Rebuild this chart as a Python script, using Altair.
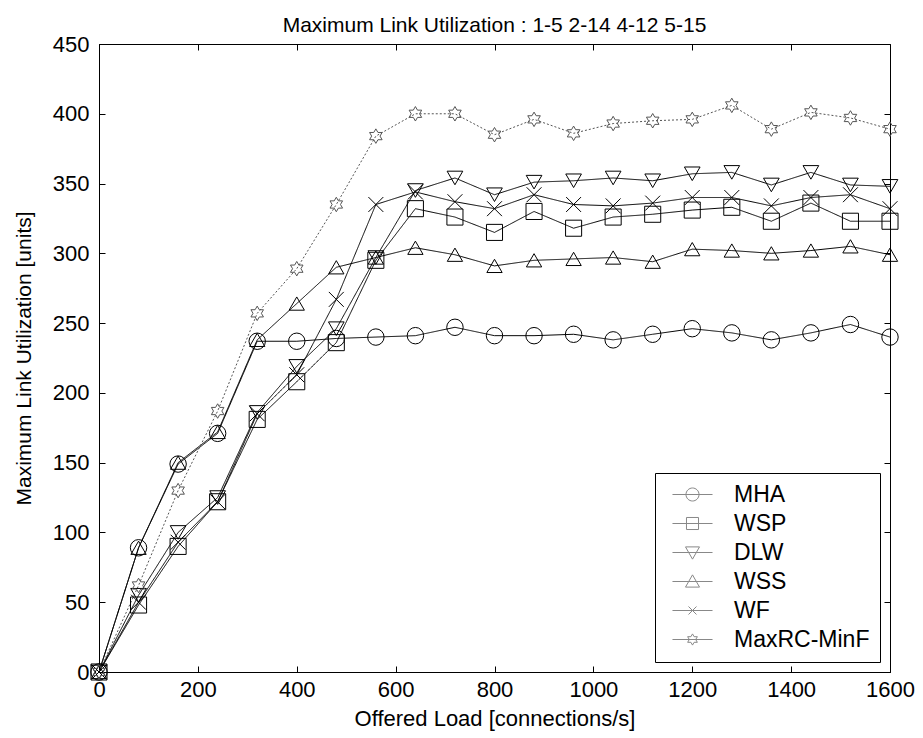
import altair as alt
import pandas as pd

loads = [0, 80, 160, 240, 320, 400, 480, 560, 640, 720, 800, 880, 960, 1040, 1120, 1200, 1280, 1360, 1440, 1520, 1600]
mha = [0, 89, 149, 171, 237, 237, 239, 240, 241, 247, 241, 241, 242, 238, 242, 246, 243, 238, 243, 249, 240]
wsp = [0, 48, 90, 122, 181, 208, 236, 295, 332, 326, 315, 330, 318, 326, 328, 331, 333, 323, 336, 323, 323]
dlw = [0, 55, 100, 125, 186, 219, 246, 297, 345, 354, 342, 351, 352, 354, 352, 357, 358, 349, 358, 349, 348]
wss = [0, 89, 150, 172, 238, 264, 290, 297, 304, 299, 291, 295, 296, 297, 294, 303, 302, 300, 302, 305, 299]
wf = [0, 50, 93, 122, 185, 213, 267, 335, 344, 337, 332, 342, 335, 334, 336, 340, 340, 334, 340, 342, 332]
maxrc = [0, 62, 130, 187, 257, 289, 335, 384, 400, 400, 385, 396, 386, 393, 395, 396, 406, 389, 401, 397, 389]

series_names = ["MHA", "WSP", "DLW", "WSS", "WF", "MaxRC-MinF"]
series_values = [mha, wsp, dlw, wss, wf, maxrc]
x_ticks = [0, 200, 400, 600, 800, 1000, 1200, 1400, 1600]
y_ticks = [0, 50, 100, 150, 200, 250, 300, 350, 400, 450]

rows = []
for name, vals in zip(series_names, series_values):
    for x, y in zip(loads, vals):
        rows.append({"load": x, "util": y, "series": name})
df = pd.DataFrame(rows)

W, H = 791, 628
FONT = "Liberation Sans"

xs = alt.Scale(domain=[0, 1600], nice=False, zero=False)
ys = alt.Scale(domain=[0, 450], nice=False, zero=False)

# marker shapes used on the plot
x_cross = "M-1,-1L1,1M1,-1L-1,1"
hexagram = ("M0,-1L-0.289,-0.5L-0.866,-0.5L-0.577,0L-0.866,0.5L-0.289,0.5"
            "L0,1L0.289,0.5L0.866,0.5L0.577,0L0.866,-0.5L0.289,-0.5Z")
shape_scale = alt.Scale(domain=series_names,
                        range=["circle", "square", "triangle-down", "triangle-up", x_cross, hexagram])

# legend symbols: a short line with the marker on it
seg = "M-2.86,0L2.86,0"
leg_shapes = [
    seg + "M0.93,0A0.93,0.93 0 1,1 -0.93,0A0.93,0.93 0 1,1 0.93,0Z",
    seg + "M-0.86,-0.86L0.86,-0.86L0.86,0.86L-0.86,0.86Z",
    seg + "M-1,-0.8L1,-0.8L0,0.95Z",
    seg + "M-1,0.8L1,0.8L0,-0.95Z",
    seg + "M-0.57,-0.57L0.57,0.57M0.57,-0.57L-0.57,0.57",
    seg + ("M0,-0.8L-0.231,-0.4L-0.693,-0.4L-0.462,0L-0.693,0.4L-0.231,0.4"
           "L0,0.8L0.231,0.4L0.693,0.4L0.462,0L0.693,-0.4L0.231,-0.4Z"),
]
leg_shape_scale = alt.Scale(domain=series_names, range=leg_shapes)

color_scale = alt.Scale(domain=series_names,
                        range=["black", "black", "black", "black", "black", "#555555"])
dash_scale = alt.Scale(domain=series_names,
                       range=[[1, 0], [1, 0], [1, 0], [1, 0], [1, 0], [2, 2]])
size_scale = alt.Scale(domain=series_names, range=[270, 210, 240, 240, 50, 110])

leg = alt.Legend(title=None, symbolOpacity=1)

base = alt.Chart(df)

lines = base.mark_line(strokeWidth=1).encode(
    x=alt.X("load:Q", scale=xs, axis=alt.Axis(
        title="Offered Load [connections/s]", values=x_ticks, tickSize=0, format="d",
        labelPadding=7, titlePadding=8, grid=False, titleFontSize=22, labelFlush=False)),
    y=alt.Y("util:Q", scale=ys, axis=alt.Axis(
        title="Maximum Link Utilization [units]", values=y_ticks, tickSize=0, format="d",
        labelPadding=10, titlePadding=18, grid=False, titleFontSize=21, labelFlush=False)),
    color=alt.Color("series:N", scale=color_scale, legend=None),
    strokeDash=alt.StrokeDash("series:N", scale=dash_scale, legend=None),
    detail="series:N",
)

points = base.mark_point(filled=False, strokeWidth=1, opacity=1).encode(
    x=alt.X("load:Q", scale=xs, axis=alt.Axis(
        orient="top", offset=-H, labels=False, domain=False, title=None,
        values=x_ticks, tickSize=6, grid=False)),
    y=alt.Y("util:Q", scale=ys, axis=alt.Axis(
        orient="right", offset=-W, labels=False, domain=False, title=None,
        values=y_ticks, tickSize=6, grid=False)),
    shape=alt.Shape("series:N", scale=shape_scale, legend=None),
    color=alt.Color("series:N", scale=color_scale, legend=None),
    size=alt.Size("series:N", scale=size_scale, legend=None),
)

ticks2 = base.mark_point(opacity=0).encode(
    x=alt.X("load:Q", scale=xs, axis=alt.Axis(
        orient="bottom", offset=-H, labels=False, domain=False, title=None,
        values=x_ticks, tickSize=6, grid=False)),
    y=alt.Y("util:Q", scale=ys, axis=alt.Axis(
        orient="left", offset=-W, labels=False, domain=False, title=None,
        values=y_ticks, tickSize=6, grid=False)),
)

legend_layer = base.mark_point(filled=False, strokeWidth=1, opacity=1).encode(
    x=alt.X("load:Q", scale=xs, axis=None),
    y=alt.Y("util:Q", scale=ys, axis=None),
    shape=alt.Shape("series:N", scale=leg_shape_scale, legend=leg),
    color=alt.Color("series:N", scale=color_scale, legend=leg),
    strokeDash=alt.StrokeDash("series:N", scale=dash_scale, legend=leg),
).transform_filter("false")

chart = alt.layer(lines, points, ticks2, legend_layer).resolve_axis(
    x="independent", y="independent"
).resolve_scale(
    shape="independent"
).properties(
    width=W, height=H,
    title=alt.TitleParams("Maximum Link Utilization : 1-5 2-14 4-12 5-15",
                          font=FONT, fontSize=21, fontWeight="normal", color="black",
                          anchor="middle", offset=-3),
    padding={"left": 91, "top": 36, "right": 25, "bottom": 64},
    autosize="none",
).configure_view(
    stroke="black", strokeWidth=1
).configure_axis(
    labelFont=FONT, titleFont=FONT, labelFontSize=22,
    labelColor="black", titleColor="black", titleFontWeight="normal",
    domainColor="black", tickColor="black", domainWidth=1, tickWidth=1,
).configure_legend(
    orient="bottom-right", offset=10, strokeColor="black", fillColor="white",
    padding=10, labelFont=FONT, labelFontSize=23, labelColor="black",
    symbolSize=196, symbolStrokeWidth=1, rowPadding=5, labelOffset=30,
    symbolOffset=16, cornerRadius=0,
)

chart.save("out.html", embed_options={"renderer": "svg", "actions": False})
